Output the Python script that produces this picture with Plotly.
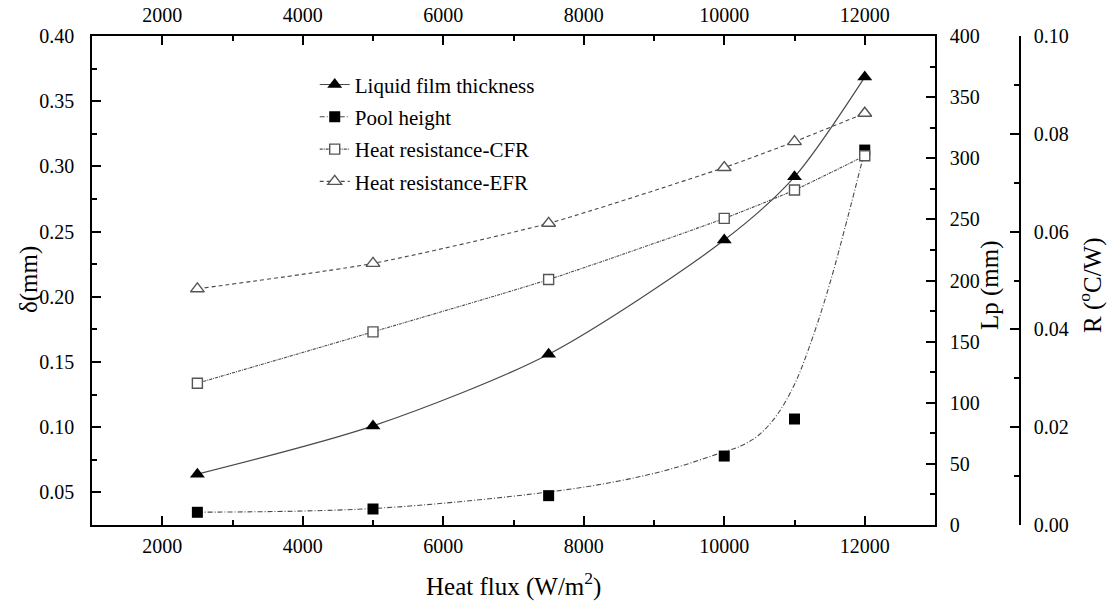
import plotly.graph_objects as go

# Heat flux (W/m^2)
heat_flux = [2500, 5000, 7500, 10000, 11000, 12000]

# Measured values
film_thickness = [0.064, 0.101, 0.156, 0.2435, 0.292, 0.3685]      # delta (mm)
pool_height = [10.4, 13.1, 24.0, 56.4, 86.7, 306.7]                # Lp (mm)
resistance_cfr = [0.0290, 0.0395, 0.0502, 0.0627, 0.0685, 0.0755]  # R (oC/W)
resistance_efr = [0.0483, 0.0535, 0.0617, 0.0731, 0.0784, 0.0842]  # R (oC/W)

# Fitted trend curve for the pool height
pool_fit_flux = [2500, 5000, 7500, 8500, 9250, 10000, 10250, 10500, 10750,
                 11000, 11250, 11500, 11750, 12000]
pool_fit_height = [10.5, 13.5, 27, 36, 46, 60, 65, 74, 90, 115, 152, 197, 250, 306]

FONT = "Liberation Serif"
LINE_GREY = "#4a4a4a"

fig = go.Figure()

# Liquid film thickness (left axis)
fig.add_trace(go.Scatter(
    x=heat_flux, y=film_thickness, name="Liquid film thickness",
    mode="lines+markers", line=dict(color=LINE_GREY, width=1.2, shape="spline", smoothing=0.8),
    marker=dict(symbol="triangle-up", size=13, color="black"),
    xaxis="x", yaxis="y", legendgroup="a",
))

# Pool height (Lp axis): trend curve, data points and legend entry
fig.add_trace(go.Scatter(
    x=pool_fit_flux, y=pool_fit_height, mode="lines", showlegend=False,
    line=dict(color=LINE_GREY, width=1.1, dash="5px,2px,1px,2px", shape="spline", smoothing=1.0),
    xaxis="x", yaxis="y2", hoverinfo="skip",
))
fig.add_trace(go.Scatter(
    x=heat_flux, y=pool_height, mode="markers", showlegend=False,
    marker=dict(symbol="square", size=11, color="black"),
    xaxis="x", yaxis="y2",
))
fig.add_trace(go.Scatter(
    x=[None], y=[None], name="Pool height", mode="lines+markers",
    line=dict(color=LINE_GREY, width=1.1, dash="5px,2px,1px,2px"),
    marker=dict(symbol="square", size=11, color="black"),
    xaxis="x", yaxis="y2", legendgroup="b",
))

# Heat resistance (R axis)
fig.add_trace(go.Scatter(
    x=heat_flux, y=resistance_cfr, name="Heat resistance-CFR",
    mode="lines+markers",
    line=dict(color=LINE_GREY, width=1.1, dash="3px,1px,1px,1px", shape="spline", smoothing=0.6),
    marker=dict(symbol="square", size=10, color="white", line=dict(color="#555555", width=1.4)),
    xaxis="x", yaxis="y3", legendgroup="c",
))
fig.add_trace(go.Scatter(
    x=heat_flux, y=resistance_efr, name="Heat resistance-EFR",
    mode="lines+markers",
    line=dict(color=LINE_GREY, width=1.1, dash="4px,3px", shape="spline", smoothing=0.6),
    marker=dict(symbol="triangle-up", size=12, color="white", line=dict(color="#555555", width=1.4)),
    xaxis="x", yaxis="y3", legendgroup="d",
))

# Carrier for the top heat-flux axis
fig.add_trace(go.Scatter(x=[None], y=[None], xaxis="x2", yaxis="y", showlegend=False))

tick_font = dict(family=FONT, size=20, color="black")
common_axis = dict(
    showgrid=False, zeroline=False, showline=True, linecolor="black", linewidth=1.6,
    ticks="inside", ticklen=9, tickwidth=1.6, tickcolor="black", tickfont=tick_font,
)
x_domain = [0, (935 - 92) / (1020 - 92)]

fig.update_layout(
    width=1107, height=605,
    margin=dict(l=92, r=87, t=36, b=80, autoexpand=False),
    paper_bgcolor="white", plot_bgcolor="white",
    font=dict(family=FONT, color="black"),
    showlegend=True,
    legend=dict(
        x=0.24, y=0.942, xanchor="left", yanchor="top",
        font=dict(family=FONT, size=21, color="black"),
        bgcolor="rgba(0,0,0,0)", traceorder="grouped", tracegroupgap=2,
        itemwidth=30,
    ),
    xaxis=dict(
        **common_axis, domain=x_domain, range=[1000, 13000], tick0=0, dtick=2000,
        tickformat="d",
        minor=dict(ticks="inside", ticklen=5, tickwidth=1.6, tickcolor="black", dtick=1000),
        anchor="y", ticklabelstandoff=2,
    ),
    xaxis2=dict(
        **common_axis, domain=x_domain, range=[1000, 13000], tick0=0, dtick=2000,
        tickformat="d",
        minor=dict(ticks="inside", ticklen=5, tickwidth=1.6, tickcolor="black", dtick=1000),
        overlaying="x", side="top", anchor="y", ticklabelstandoff=4,
    ),
    yaxis=dict(
        **common_axis, range=[0.025, 0.40], tick0=0, dtick=0.05, tickformat=".2f",
        minor=dict(ticks="inside", ticklen=5, tickwidth=1.6, tickcolor="black", dtick=0.025),
        anchor="x", ticklabelstandoff=12,
    ),
    yaxis2=dict(
        **common_axis, range=[0, 400], tick0=0, dtick=50,
        minor=dict(ticks="inside", ticklen=5, tickwidth=1.6, tickcolor="black", dtick=25),
        overlaying="y", side="right", anchor="x", ticklabelstandoff=9,
    ),
    yaxis3=dict(
        **common_axis, range=[0, 0.1], tick0=0, dtick=0.02, tickformat=".2f",
        minor=dict(ticks="inside", ticklen=5, tickwidth=1.6, tickcolor="black", dtick=0.01),
        overlaying="y", side="right", anchor="free", position=1.0, ticklabelstandoff=9,
    ),
    annotations=[
        dict(text="δ(mm)", textangle=-90, x=29, y=280, showarrow=False,
             font=dict(family=FONT, size=25)),
        dict(text="Lp (mm)", textangle=-90, x=990, y=285, showarrow=False,
             font=dict(family=FONT, size=25)),
        dict(text="R (<sup>o</sup>C/W)", textangle=-90, x=1090, y=285, showarrow=False,
             font=dict(family=FONT, size=25)),
        dict(text="Heat flux (W/m<sup>2</sup>)", x=513, y=584, showarrow=False,
             font=dict(family=FONT, size=25)),
    ],
)

# Place the axis-title annotations at pixel positions on the page
plot_w = 1020 - 92
plot_h = 525 - 36
for ann in fig.layout.annotations:
    ann.x = (ann.x - 92) / plot_w
    ann.y = (525 - ann.y) / plot_h
    ann.xref = "paper"
    ann.yref = "paper"
    ann.xanchor = "center"
    ann.yanchor = "middle"

fig.write_html("out.html")
